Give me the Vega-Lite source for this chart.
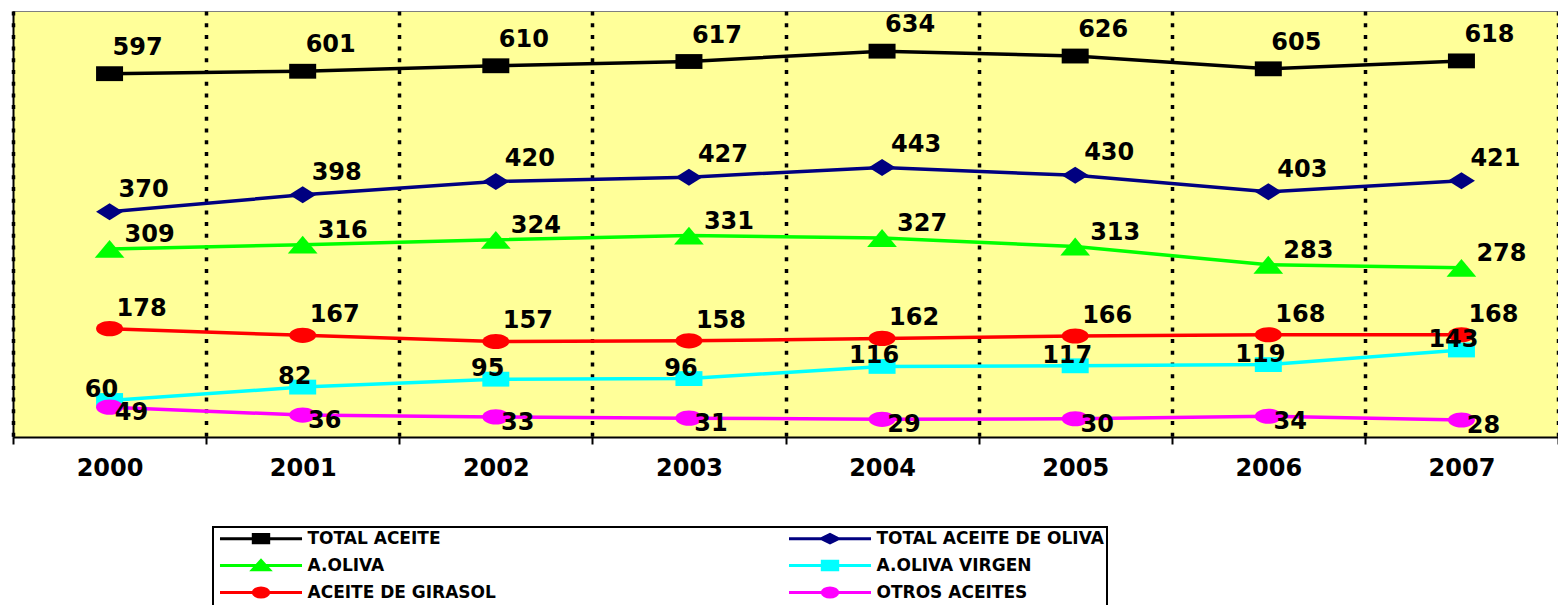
{
  "$schema": "https://vega.github.io/schema/vega-lite/v6.json",
  "width": 1545,
  "height": 426,
  "autosize": {"type": "none"},
  "padding": {"left": 13, "top": 11, "right": 0, "bottom": 168},
  "background": "white",
  "config": {
    "view": {"fill": "#FFFF99", "stroke": "#7f7f7f", "strokeWidth": 1},
    "font": "DejaVu Sans",
    "legend": {
      "padding": 3,
      "strokeColor": "black",
      "strokeWidth": 2,
      "fillColor": "white",
      "columnPadding": 286,
      "rowPadding": 5,
      "symbolSize": 196,
      "symbolStrokeWidth": 3,
      "symbolOpacity": 1,
      "symbolOffset": 36.5,
      "labelOffset": 38,
      "labelFont": "DejaVu Sans",
      "labelFontWeight": "bold",
      "labelFontSize": 17,
      "labelColor": "black",
      "labelLimit": 500
    }
  },
  "data": {
    "values": [
      {"year": "2000", "serie": "TOTAL ACEITE", "value": 597},
      {"year": "2001", "serie": "TOTAL ACEITE", "value": 601},
      {"year": "2002", "serie": "TOTAL ACEITE", "value": 610},
      {"year": "2003", "serie": "TOTAL ACEITE", "value": 617},
      {"year": "2004", "serie": "TOTAL ACEITE", "value": 634},
      {"year": "2005", "serie": "TOTAL ACEITE", "value": 626},
      {"year": "2006", "serie": "TOTAL ACEITE", "value": 605},
      {"year": "2007", "serie": "TOTAL ACEITE", "value": 618},
      {"year": "2000", "serie": "TOTAL ACEITE DE OLIVA", "value": 370},
      {"year": "2001", "serie": "TOTAL ACEITE DE OLIVA", "value": 398},
      {"year": "2002", "serie": "TOTAL ACEITE DE OLIVA", "value": 420},
      {"year": "2003", "serie": "TOTAL ACEITE DE OLIVA", "value": 427},
      {"year": "2004", "serie": "TOTAL ACEITE DE OLIVA", "value": 443},
      {"year": "2005", "serie": "TOTAL ACEITE DE OLIVA", "value": 430},
      {"year": "2006", "serie": "TOTAL ACEITE DE OLIVA", "value": 403},
      {"year": "2007", "serie": "TOTAL ACEITE DE OLIVA", "value": 421},
      {"year": "2000", "serie": "A.OLIVA", "value": 309},
      {"year": "2001", "serie": "A.OLIVA", "value": 316},
      {"year": "2002", "serie": "A.OLIVA", "value": 324},
      {"year": "2003", "serie": "A.OLIVA", "value": 331},
      {"year": "2004", "serie": "A.OLIVA", "value": 327},
      {"year": "2005", "serie": "A.OLIVA", "value": 313},
      {"year": "2006", "serie": "A.OLIVA", "value": 283},
      {"year": "2007", "serie": "A.OLIVA", "value": 278},
      {"year": "2000", "serie": "A.OLIVA VIRGEN", "value": 60},
      {"year": "2001", "serie": "A.OLIVA VIRGEN", "value": 82},
      {"year": "2002", "serie": "A.OLIVA VIRGEN", "value": 95},
      {"year": "2003", "serie": "A.OLIVA VIRGEN", "value": 96},
      {"year": "2004", "serie": "A.OLIVA VIRGEN", "value": 116},
      {"year": "2005", "serie": "A.OLIVA VIRGEN", "value": 117},
      {"year": "2006", "serie": "A.OLIVA VIRGEN", "value": 119},
      {"year": "2007", "serie": "A.OLIVA VIRGEN", "value": 143},
      {"year": "2000", "serie": "ACEITE DE GIRASOL", "value": 178},
      {"year": "2001", "serie": "ACEITE DE GIRASOL", "value": 167},
      {"year": "2002", "serie": "ACEITE DE GIRASOL", "value": 157},
      {"year": "2003", "serie": "ACEITE DE GIRASOL", "value": 158},
      {"year": "2004", "serie": "ACEITE DE GIRASOL", "value": 162},
      {"year": "2005", "serie": "ACEITE DE GIRASOL", "value": 166},
      {"year": "2006", "serie": "ACEITE DE GIRASOL", "value": 168},
      {"year": "2007", "serie": "ACEITE DE GIRASOL", "value": 168},
      {"year": "2000", "serie": "OTROS ACEITES", "value": 49},
      {"year": "2001", "serie": "OTROS ACEITES", "value": 36},
      {"year": "2002", "serie": "OTROS ACEITES", "value": 33},
      {"year": "2003", "serie": "OTROS ACEITES", "value": 31},
      {"year": "2004", "serie": "OTROS ACEITES", "value": 29},
      {"year": "2005", "serie": "OTROS ACEITES", "value": 30},
      {"year": "2006", "serie": "OTROS ACEITES", "value": 34},
      {"year": "2007", "serie": "OTROS ACEITES", "value": 28}
    ]
  },
  "encoding": {
    "x": {
      "field": "year",
      "type": "nominal",
      "scale": {"paddingInner": 0, "paddingOuter": 0},
      "axis": {
        "title": null,
        "labelAngle": 0,
        "labelFont": "DejaVu Sans",
        "labelFontWeight": "bold",
        "labelFontSize": 24,
        "labelColor": "black",
        "labelPadding": 12,
        "domainColor": "black",
        "domainWidth": 2,
        "tickColor": "black",
        "tickWidth": 2,
        "tickSize": 7,
        "tickBand": "extent",
        "grid": true,
        "gridColor": "black",
        "gridDash": [4, 7.7],
        "gridWidth": 3.5,
        "gridOpacity": 1
      }
    },
    "y": {
      "field": "value",
      "type": "quantitative",
      "scale": {"domain": [0, 700], "nice": false},
      "axis": {
        "title": null,
        "labels": false,
        "ticks": false,
        "grid": false,
        "domainColor": "black",
        "domainWidth": 2
      }
    }
  },
  "layer": [
    {
      "mark": {"type": "point", "filled": true, "opacity": 0},
      "encoding": {
        "color": {
          "field": "serie",
          "type": "nominal",
          "scale": {
            "domain": ["TOTAL ACEITE", "TOTAL ACEITE DE OLIVA", "A.OLIVA", "A.OLIVA VIRGEN", "ACEITE DE GIRASOL", "OTROS ACEITES"],
            "range": ["#000000", "#000080", "#00FF00", "#00FFFF", "#FF0000", "#FF00FF"]
          },
          "legend": {"title": null, "orient": "none", "legendX": 200, "legendY": 516, "columns": 2, "direction": "horizontal"}
        },
        "stroke": {
          "field": "serie",
          "type": "nominal",
          "scale": {
            "domain": ["TOTAL ACEITE", "TOTAL ACEITE DE OLIVA", "A.OLIVA", "A.OLIVA VIRGEN", "ACEITE DE GIRASOL", "OTROS ACEITES"],
            "range": ["#000000", "#000080", "#00FF00", "#00FFFF", "#FF0000", "#FF00FF"]
          },
          "legend": {"title": null, "orient": "none", "legendX": 200, "legendY": 516, "columns": 2, "direction": "horizontal"}
        },
        "shape": {
          "field": "serie",
          "type": "nominal",
          "scale": {
            "domain": ["TOTAL ACEITE", "TOTAL ACEITE DE OLIVA", "A.OLIVA", "A.OLIVA VIRGEN", "ACEITE DE GIRASOL", "OTROS ACEITES"],
            "range": [
              "M-5.86,0H5.86M-1.1,-0.6H1.1V0.6H-1.1Z",
              "M-5.86,0H5.86M-1.2,0L0,-0.6L1.2,0L0,0.6Z",
              "M-5.86,0H5.86M-1.2,0.62L0,-0.7L1.2,0.62Z",
              "M-5.86,0H5.86M-1.1,-0.6H1.1V0.6H-1.1Z",
              "M-5.86,0H5.86M-1.1,0A1.1,0.65 0 1,0 1.1,0A1.1,0.65 0 1,0 -1.1,0Z",
              "M-5.86,0H5.86M-1.1,0A1.1,0.65 0 1,0 1.1,0A1.1,0.65 0 1,0 -1.1,0Z"
            ]
          },
          "legend": {"title": null, "orient": "none", "legendX": 200, "legendY": 516, "columns": 2, "direction": "horizontal"}
        }
      }
    },
    {
      "mark": {"type": "line", "strokeWidth": 3.5},
      "encoding": {
        "color": {"field": "serie", "type": "nominal"}
      }
    },
    {
      "transform": [{"filter": "datum.serie === 'TOTAL ACEITE'"}],
      "mark": {"type": "point", "filled": true, "opacity": 1, "size": 729, "color": "#000000", "shape": "M-1,-0.55H1V0.55H-1Z"}
    },
    {
      "transform": [{"filter": "datum.serie === 'TOTAL ACEITE DE OLIVA'"}],
      "mark": {"type": "point", "filled": true, "opacity": 1, "size": 729, "color": "#000080", "shape": "M-1,0L0,-0.63L1,0L0,0.63Z"}
    },
    {
      "transform": [{"filter": "datum.serie === 'A.OLIVA'"}],
      "mark": {"type": "point", "filled": true, "opacity": 1, "size": 729, "color": "#00FF00", "shape": "M-1.1,0.66L0,-0.66L1.1,0.66Z"}
    },
    {
      "transform": [{"filter": "datum.serie === 'A.OLIVA VIRGEN'"}],
      "mark": {"type": "point", "filled": true, "opacity": 1, "size": 729, "color": "#00FFFF", "shape": "M-1,-0.55H1V0.55H-1Z"}
    },
    {
      "transform": [{"filter": "datum.serie === 'ACEITE DE GIRASOL'"}],
      "mark": {"type": "point", "filled": true, "opacity": 1, "size": 729, "color": "#FF0000", "shape": "M-1,0A1,0.56 0 1,0 1,0A1,0.56 0 1,0 -1,0Z"}
    },
    {
      "transform": [{"filter": "datum.serie === 'OTROS ACEITES'"}],
      "mark": {"type": "point", "filled": true, "opacity": 1, "size": 729, "color": "#FF00FF", "shape": "M-1,0A1,0.56 0 1,0 1,0A1,0.56 0 1,0 -1,0Z"}
    },
    {
      "transform": [{"filter": "datum.serie === 'TOTAL ACEITE'"}],
      "mark": {"type": "text", "font": "DejaVu Sans", "fontWeight": "bold", "fontSize": 24, "color": "black", "dx": 28, "dy": -26},
      "encoding": {"text": {"field": "value", "type": "quantitative"}}
    },
    {
      "transform": [{"filter": "datum.serie === 'TOTAL ACEITE DE OLIVA'"}],
      "mark": {"type": "text", "font": "DejaVu Sans", "fontWeight": "bold", "fontSize": 24, "color": "black", "dx": 34, "dy": -22},
      "encoding": {"text": {"field": "value", "type": "quantitative"}}
    },
    {
      "transform": [{"filter": "datum.serie === 'A.OLIVA'"}],
      "mark": {"type": "text", "font": "DejaVu Sans", "fontWeight": "bold", "fontSize": 24, "color": "black", "dx": 40, "dy": -14},
      "encoding": {"text": {"field": "value", "type": "quantitative"}}
    },
    {
      "transform": [{"filter": "datum.serie === 'A.OLIVA VIRGEN'"}],
      "mark": {"type": "text", "font": "DejaVu Sans", "fontWeight": "bold", "fontSize": 24, "color": "black", "dx": -8, "dy": -10},
      "encoding": {"text": {"field": "value", "type": "quantitative"}}
    },
    {
      "transform": [{"filter": "datum.serie === 'ACEITE DE GIRASOL'"}],
      "mark": {"type": "text", "font": "DejaVu Sans", "fontWeight": "bold", "fontSize": 24, "color": "black", "dx": 32, "dy": -20},
      "encoding": {"text": {"field": "value", "type": "quantitative"}}
    },
    {
      "transform": [{"filter": "datum.serie === 'OTROS ACEITES'"}],
      "mark": {"type": "text", "font": "DejaVu Sans", "fontWeight": "bold", "fontSize": 24, "color": "black", "dx": 22, "dy": 6},
      "encoding": {"text": {"field": "value", "type": "quantitative"}}
    }
  ]
}
